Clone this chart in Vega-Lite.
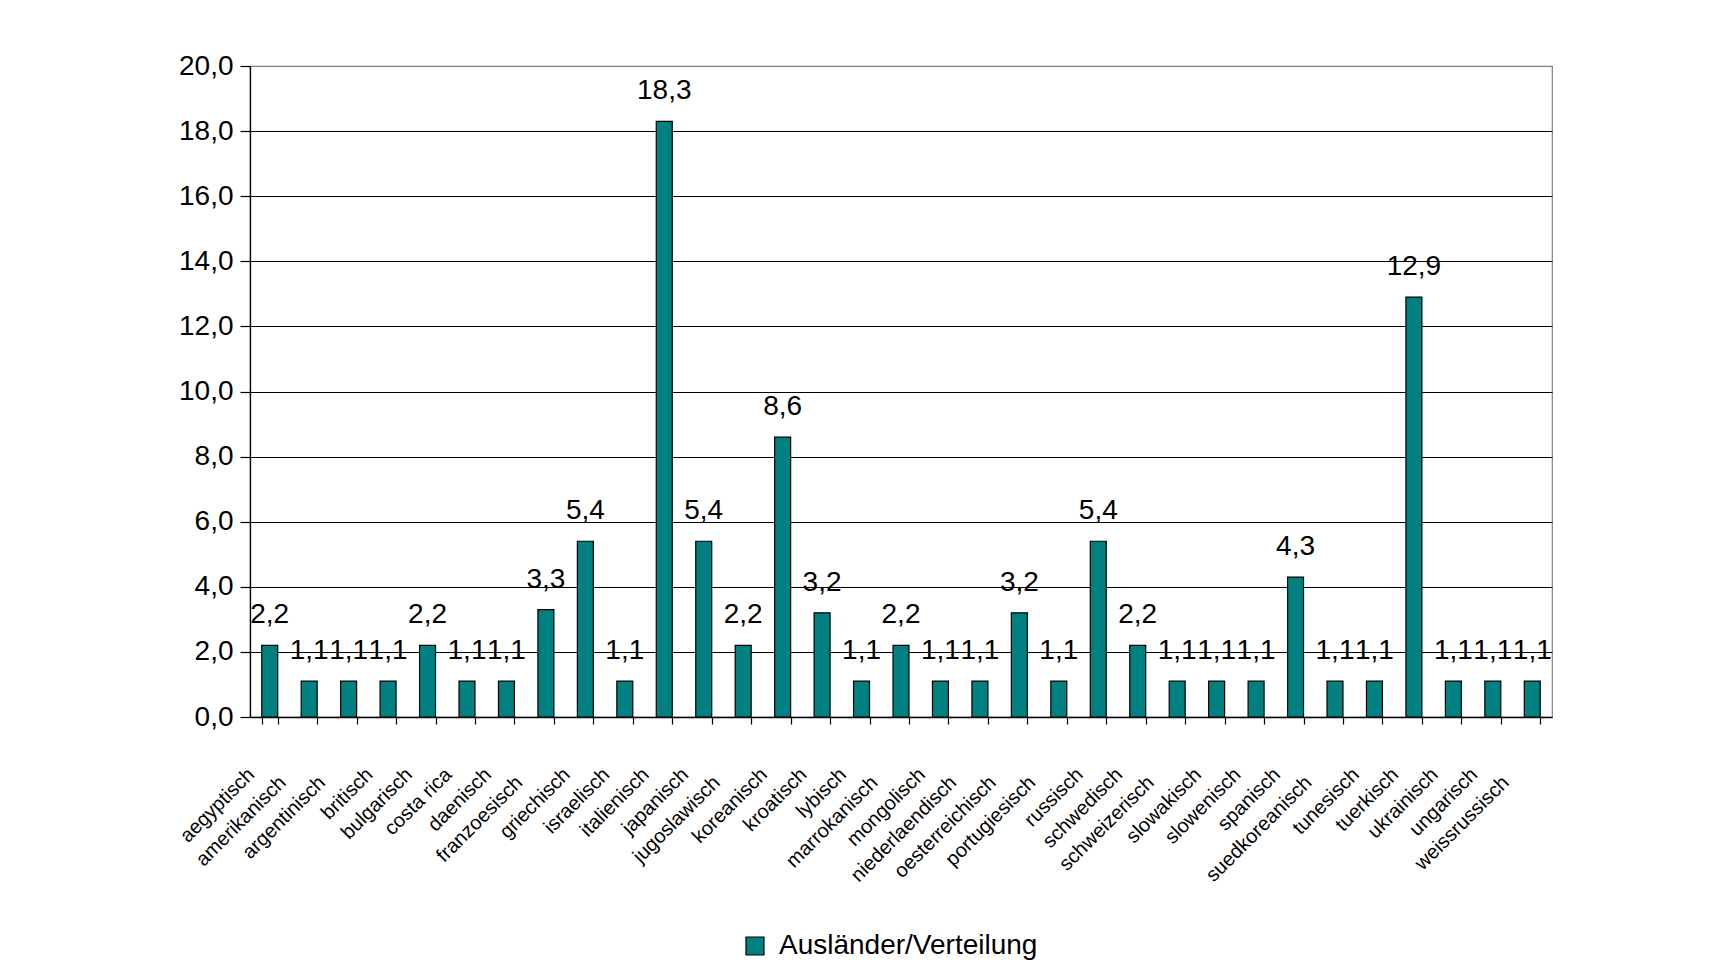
{
  "$schema": "https://vega.github.io/schema/vega-lite/v6.json",
  "width": 1302,
  "height": 651,
  "autosize": {"type": "none"},
  "padding": {"left": 250, "top": 66, "right": 181, "bottom": 259},
  "background": "white",
  "data": {
    "values": [
      {"nation": "aegyptisch", "wert": 2.2, "serie": "Ausländer/Verteilung"},
      {"nation": "amerikanisch", "wert": 1.1, "serie": "Ausländer/Verteilung"},
      {"nation": "argentinisch", "wert": 1.1, "serie": "Ausländer/Verteilung"},
      {"nation": "britisch", "wert": 1.1, "serie": "Ausländer/Verteilung"},
      {"nation": "bulgarisch", "wert": 2.2, "serie": "Ausländer/Verteilung"},
      {"nation": "costa rica", "wert": 1.1, "serie": "Ausländer/Verteilung"},
      {"nation": "daenisch", "wert": 1.1, "serie": "Ausländer/Verteilung"},
      {"nation": "franzoesisch", "wert": 3.3, "serie": "Ausländer/Verteilung"},
      {"nation": "griechisch", "wert": 5.4, "serie": "Ausländer/Verteilung"},
      {"nation": "israelisch", "wert": 1.1, "serie": "Ausländer/Verteilung"},
      {"nation": "italienisch", "wert": 18.3, "serie": "Ausländer/Verteilung"},
      {"nation": "japanisch", "wert": 5.4, "serie": "Ausländer/Verteilung"},
      {"nation": "jugoslawisch", "wert": 2.2, "serie": "Ausländer/Verteilung"},
      {"nation": "koreanisch", "wert": 8.6, "serie": "Ausländer/Verteilung"},
      {"nation": "kroatisch", "wert": 3.2, "serie": "Ausländer/Verteilung"},
      {"nation": "lybisch", "wert": 1.1, "serie": "Ausländer/Verteilung"},
      {"nation": "marrokanisch", "wert": 2.2, "serie": "Ausländer/Verteilung"},
      {"nation": "mongolisch", "wert": 1.1, "serie": "Ausländer/Verteilung"},
      {"nation": "niederlaendisch", "wert": 1.1, "serie": "Ausländer/Verteilung"},
      {"nation": "oesterreichisch", "wert": 3.2, "serie": "Ausländer/Verteilung"},
      {"nation": "portugiesisch", "wert": 1.1, "serie": "Ausländer/Verteilung"},
      {"nation": "russisch", "wert": 5.4, "serie": "Ausländer/Verteilung"},
      {"nation": "schwedisch", "wert": 2.2, "serie": "Ausländer/Verteilung"},
      {"nation": "schweizerisch", "wert": 1.1, "serie": "Ausländer/Verteilung"},
      {"nation": "slowakisch", "wert": 1.1, "serie": "Ausländer/Verteilung"},
      {"nation": "slowenisch", "wert": 1.1, "serie": "Ausländer/Verteilung"},
      {"nation": "spanisch", "wert": 4.3, "serie": "Ausländer/Verteilung"},
      {"nation": "suedkoreanisch", "wert": 1.1, "serie": "Ausländer/Verteilung"},
      {"nation": "tunesisch", "wert": 1.1, "serie": "Ausländer/Verteilung"},
      {"nation": "tuerkisch", "wert": 12.9, "serie": "Ausländer/Verteilung"},
      {"nation": "ukrainisch", "wert": 1.1, "serie": "Ausländer/Verteilung"},
      {"nation": "ungarisch", "wert": 1.1, "serie": "Ausländer/Verteilung"},
      {"nation": "weissrussisch", "wert": 1.1, "serie": "Ausländer/Verteilung"}
    ]
  },
  "encoding": {
    "x": {
      "field": "nation",
      "type": "nominal",
      "sort": null,
      "scale": {"paddingInner": 0.595, "paddingOuter": 0.2975},
      "axis": {
        "title": null,
        "labelAngle": -45,
        "labelAlign": "right",
        "labelBaseline": "top",
        "labelFont": "Liberation Sans",
        "labelFontSize": 20,
        "labelColor": "black",
        "labelPadding": {"condition": {"test": "length(datum.label) >= 12", "value": 48}, "value": 40},
        "labelOffset": {"condition": {"test": "length(datum.label) >= 12", "value": -34}, "value": -26},
        "labelOverlap": false,
        "labelBound": false,
        "labelLimit": 0,
        "tickSize": 7,
        "tickColor": "black",
        "tickWidth": 1.2,
        "tickBand": "extent",
        "domainColor": "black",
        "domainWidth": 1.3,
        "grid": false
      }
    },
    "y": {
      "field": "wert",
      "type": "quantitative",
      "scale": {"domain": [0, 20], "nice": false},
      "axis": {
        "title": null,
        "values": [0, 2, 4, 6, 8, 10, 12, 14, 16, 18, 20],
        "format": ".1f",
        "labelFont": "Liberation Sans",
        "labelFontSize": 28,
        "labelColor": "black",
        "labelPadding": 7,
        "tickSize": 10,
        "tickColor": "black",
        "tickWidth": 1.2,
        "domainColor": "black",
        "domainWidth": 1.3,
        "grid": true,
        "gridColor": {"condition": {"test": "datum.value == 20", "value": "#808080"}, "value": "black"},
        "gridWidth": 1.2,
        "gridOpacity": 1
      }
    }
  },
  "layer": [
    {
      "mark": {"type": "bar", "stroke": "black", "strokeWidth": 1.2},
      "encoding": {
        "color": {
          "field": "serie",
          "type": "nominal",
          "scale": {"range": ["#008080"]},
          "legend": {
            "title": null,
            "orient": "none",
            "legendX": 491,
            "legendY": 866,
            "direction": "horizontal",
            "padding": 0,
            "symbolType": "square",
            "symbolSize": 324,
            "symbolStrokeColor": "black",
            "symbolStrokeWidth": 1.2,
            "symbolOpacity": 1,
            "labelFont": "Liberation Sans",
            "labelFontSize": 28,
            "labelColor": "black",
            "labelOffset": 10,
            "labelLimit": 0
          }
        }
      }
    },
    {
      "mark": {"type": "text", "font": "Liberation Sans", "fontSize": 28, "color": "black", "baseline": "alphabetic", "align": "center", "dy": -22},
      "encoding": {
        "text": {"field": "wert", "type": "quantitative", "format": ".1f"}
      }
    }
  ],
  "config": {
    "view": {"stroke": "#808080", "strokeWidth": 1.2},
    "locale": {"number": {"decimal": ",", "thousands": ".", "grouping": [3], "currency": ["", " €"]}}
  }
}
